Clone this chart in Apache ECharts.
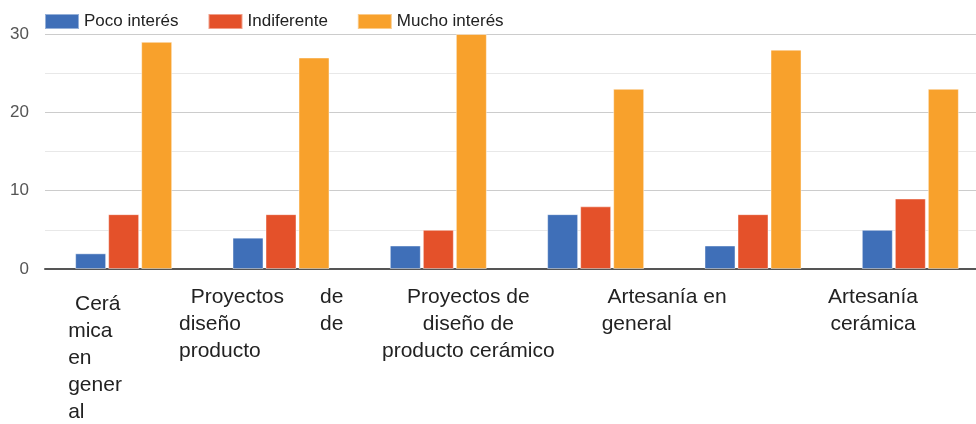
<!DOCTYPE html>
<html>
<head>
<meta charset="utf-8">
<script src="https://cdn.jsdelivr.net/npm/echarts@6/dist/echarts.min.js"></script>
<style>
  html, body { margin: 0; padding: 0; background: #fff; }
  #chart { width: 976px; height: 424px; }
</style>
</head>
<body>
<div id="chart"></div>
<script>
// categories (the 6th group has no label in the original)
const categories = ['Cerámica en general', 'Proyectos de diseño de producto', 'Proyectos de diseño de producto cerámico', 'Artesanía en general', 'Artesanía cerámica', ''];
const seriesNames = ['Poco interés', 'Indiferente', 'Mucho interés'];
const pocoInteres = [2, 4, 3, 7, 3, 5];
const indiferente = [7, 7, 5, 8, 7, 9];
const muchoInteres = [29, 27, 30, 23, 28, 23];
const yTicks = [0, 10, 20, 30];

// tick label lines, as wrapped in the original
const tickLines = [
  [' Cerá', 'mica', 'en', 'gener', 'al'],
  [['  Proyectos', 'de'], ['diseño', 'de'], ['producto']],
  ['Proyectos de', 'diseño de', 'producto cerámico'],
  [' Artesanía en', 'general'],
  ['Artesanía', 'cerámica'],
  []
];

const colors = ['#3f6fb8', '#e4512a', '#f8a12c'];

const chart = echarts.init(document.getElementById('chart'), null, { renderer: 'canvas' });

const labelFont = { fontSize: 21, lineHeight: 27, color: '#222', fontFamily: 'Liberation Sans, Arial, sans-serif' };

const formatLabel = (value, index) => {
  const lines = tickLines[index] || [];
  switch (index) {
    case 0:
      // first column sits a bit lower in the original
      return lines.map((l, i) => (i === 0 ? '{drop| }' : '') + '{c0|' + l + '}').join('\n');
    case 1:
      return lines.map(l => '{c1a|' + l[0] + '}' + (l[1] ? '{c1b|' + l[1] + '}' : '')).join('\n');
    case 2:
      return lines.map(l => '{sp2| }{c2|' + l + '}').join('\n');
    case 3:
      return lines.map(l => '{sp3| }{c3|' + l + '}').join('\n');
    case 4:
      return lines.map(l => '{sp4| }{c4|' + l + '}').join('\n');
    default:
      return '';
  }
};

const makeBar = (name, data, color) => ({
  name: name,
  type: 'bar',
  data: data,
  barWidth: 31,
  barGap: '6.5%',
  itemStyle: {
    color: color,
    borderColor: 'rgba(255,255,255,0.45)',
    borderWidth: 1
  },
  animation: false
});

chart.setOption({
  animation: false,
  legend: {
    left: 44,
    top: 13,
    padding: 0,
    itemWidth: 34,
    itemHeight: 15,
    itemGap: 29,
    icon: 'rect',
    textStyle: { fontSize: 17, color: '#222', fontFamily: 'Liberation Sans, Arial, sans-serif' },
    data: seriesNames
  },
  grid: {
    left: 45,
    right: -13,
    top: 34,
    bottom: 155,
    containLabel: false,
    outerBoundsMode: 'none'
  },
  xAxis: {
    type: 'category',
    data: categories,
    axisTick: { show: false },
    axisLine: { lineStyle: { color: '#555', width: 2 } },
    axisLabel: {
      interval: 0,
      margin: 15,
      hideOverlap: false,
      ...labelFont,
      formatter: formatLabel,
      rich: {
        drop: { ...labelFont, width: 1, lineHeight: 31, align: 'left' },
        c0: { ...labelFont, width: 110, align: 'left', verticalAlign: 'bottom' },
        c1a: { ...labelFont, width: 141, align: 'left' },
        c1b: { ...labelFont, width: 63, align: 'left' },
        sp2: { ...labelFont, width: 60, align: 'left' },
        c2: { ...labelFont, width: 180, align: 'center' },
        sp3: { ...labelFont, width: 142, align: 'left' },
        c3: { ...labelFont, width: 130, align: 'left' },
        sp4: { ...labelFont, width: 240, align: 'left' },
        c4: { ...labelFont, width: 100, align: 'center' }
      }
    }
  },
  yAxis: {
    type: 'value',
    min: yTicks[0],
    max: yTicks[yTicks.length - 1],
    interval: yTicks[1] - yTicks[0],
    axisLine: { show: false },
    axisTick: { show: false },
    axisLabel: { fontSize: 17, color: '#555', margin: 16, fontFamily: 'Liberation Sans, Arial, sans-serif' },
    splitLine: { lineStyle: { color: '#cccccc', width: 1 } },
    minorTick: { show: false, splitNumber: 2 },
    minorSplitLine: { show: true, lineStyle: { color: '#e8e8e8', width: 1 } }
  },
  series: [
    makeBar(seriesNames[0], pocoInteres, colors[0]),
    makeBar(seriesNames[1], indiferente, colors[1]),
    makeBar(seriesNames[2], muchoInteres, colors[2])
  ]
});
</script>
</body>
</html>
